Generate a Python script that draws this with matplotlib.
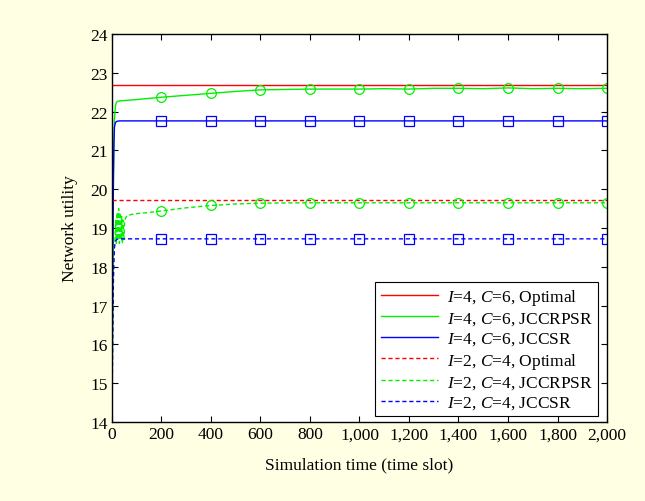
import matplotlib.pyplot as plt
from matplotlib.ticker import FuncFormatter

plt.rcParams['font.family'] = ['Liberation Serif', 'DejaVu Serif']
plt.rcParams['mathtext.fontset'] = 'custom'
plt.rcParams['mathtext.rm'] = 'Liberation Serif'
plt.rcParams['mathtext.it'] = 'Liberation Serif:italic'

# optimal values (flat)
t_opt = [0, 2000]
opt_i4 = [22.68, 22.68]
opt_i2 = [19.73, 19.73]

# JCCSR
t_jccsr = [0, 2, 4, 6, 8, 10, 14, 20, 30, 200, 400, 600, 800, 1000,
           1200, 1400, 1600, 1800, 2000]
jccsr_i4 = [14.0, 16.5, 18.8, 20.4, 21.2, 21.6, 21.72, 21.75, 21.76, 21.76,
            21.76, 21.76, 21.76, 21.76, 21.76, 21.76, 21.76, 21.76, 21.76]
jccsr_i2 = [14.0, 15.5, 16.8, 17.7, 18.2, 18.5, 18.66, 18.71, 18.72, 18.72,
            18.72, 18.72, 18.72, 18.72, 18.72, 18.72, 18.72, 18.72, 18.72]

# JCCRPSR, I=4
t_rp_i4 = [0, 2, 4, 6, 8, 10, 14, 18, 25, 40, 60, 100, 150, 200, 300, 400,
           500, 600, 700, 800, 900, 1000, 1100, 1200, 1300, 1400, 1500, 1600,
           1700, 1800, 1900, 2000]
rp_i4 = [14.0, 16.5, 18.8, 20.3, 21.2, 21.8, 22.15, 22.24, 22.27, 22.28,
         22.29, 22.31, 22.34, 22.37, 22.42, 22.47, 22.52, 22.56, 22.57, 22.58,
         22.58, 22.58, 22.59, 22.58, 22.60, 22.60, 22.59, 22.61, 22.59, 22.60,
         22.59, 22.60]

# JCCRPSR, I=2
t_rp_i2 = [0, 3, 6, 9, 12, 15, 18, 21, 24, 27, 30, 33, 36, 39, 42, 45, 48,
           51, 55, 60, 80, 100, 150, 200, 300, 400, 500, 600, 800, 1000,
           1200, 1400, 1600, 1800, 2000]
rp_i2 = [14.0, 16.5, 18.0, 18.5, 18.7, 19.2, 18.6, 19.4, 18.7, 19.5, 18.6,
         19.4, 18.7, 19.3, 18.6, 19.2, 18.7, 19.2, 19.25, 19.32, 19.35, 19.37,
         19.40, 19.44, 19.52, 19.58, 19.62, 19.64, 19.65, 19.65, 19.65, 19.65,
         19.65, 19.65, 19.65]

marker_t = [200, 400, 600, 800, 1000, 1200, 1400, 1600, 1800, 2000]


def marks(times):
    return [i for i, t in enumerate(times) if t in marker_t]


red, green, blue = '#ff0000', '#00f000', '#0000ff'
dash = (0, (3, 2))

fig = plt.figure(figsize=(6.45, 5.02), dpi=100, facecolor='#ffffe3')
ax = fig.add_axes([0.1736, 0.1574, 0.7675, 0.7729])

lw = 1.0
ax.plot(t_opt, opt_i4, color=red, lw=lw, label='$I$=4, $C$=6, Optimal')
ax.plot(t_rp_i4, rp_i4, color=green, lw=lw, label='$I$=4, $C$=6, JCCRPSR')
ax.plot(t_jccsr, jccsr_i4, color=blue, lw=lw, label='$I$=4, $C$=6, JCCSR')
ax.plot(t_opt, opt_i2, color=red, lw=lw, ls=dash, label='$I$=2, $C$=4, Optimal')
ax.plot(t_rp_i2, rp_i2, color=green, lw=lw, ls=dash, label='$I$=2, $C$=4, JCCRPSR')
ax.plot(t_jccsr, jccsr_i2, color=blue, lw=lw, ls=dash, label='$I$=2, $C$=4, JCCSR')

# markers only, every 200 slots
ax.plot(t_rp_i4, rp_i4, ls='none', marker='o', ms=7, mfc='none', mec=green,
        mew=0.9, markevery=marks(t_rp_i4))
ax.plot(t_rp_i2, rp_i2, ls='none', marker='o', ms=7, mfc='none', mec=green,
        mew=0.9, markevery=marks(t_rp_i2))
ax.plot(t_jccsr, jccsr_i4, ls='none', marker='s', ms=7, mfc='none', mec=blue,
        mew=0.9, markevery=marks(t_jccsr))
ax.plot(t_jccsr, jccsr_i2, ls='none', marker='s', ms=7, mfc='none', mec=blue,
        mew=0.9, markevery=marks(t_jccsr))

ax.set_xlim(0, 2000)
ax.set_ylim(14, 24)
ax.set_xticks(range(0, 2001, 200))
ax.set_yticks(range(14, 25))
ax.xaxis.set_major_formatter(FuncFormatter(lambda v, p: f'{int(v):,}'))
ax.tick_params(direction='in', top=True, right=True, length=4, width=0.8,
               labelsize=12.5, pad=3)
for s in ax.spines.values():
    s.set_linewidth(1.0)

ax.set_xlabel('Simulation time (time slot)', fontsize=12.5, labelpad=10)
ax.set_ylabel('Network utility', fontsize=12.5, labelpad=9)

leg = ax.legend(loc='lower right', bbox_to_anchor=(0.982, 0.015),
                borderaxespad=0, fontsize=12.5, fancybox=False, framealpha=1,
                edgecolor='black', handlelength=3.3, labelspacing=0.2,
                borderpad=0.3, handletextpad=0.5)
leg.get_frame().set_linewidth(0.8)

fig.savefig('out.png', dpi=100, facecolor=fig.get_facecolor())
